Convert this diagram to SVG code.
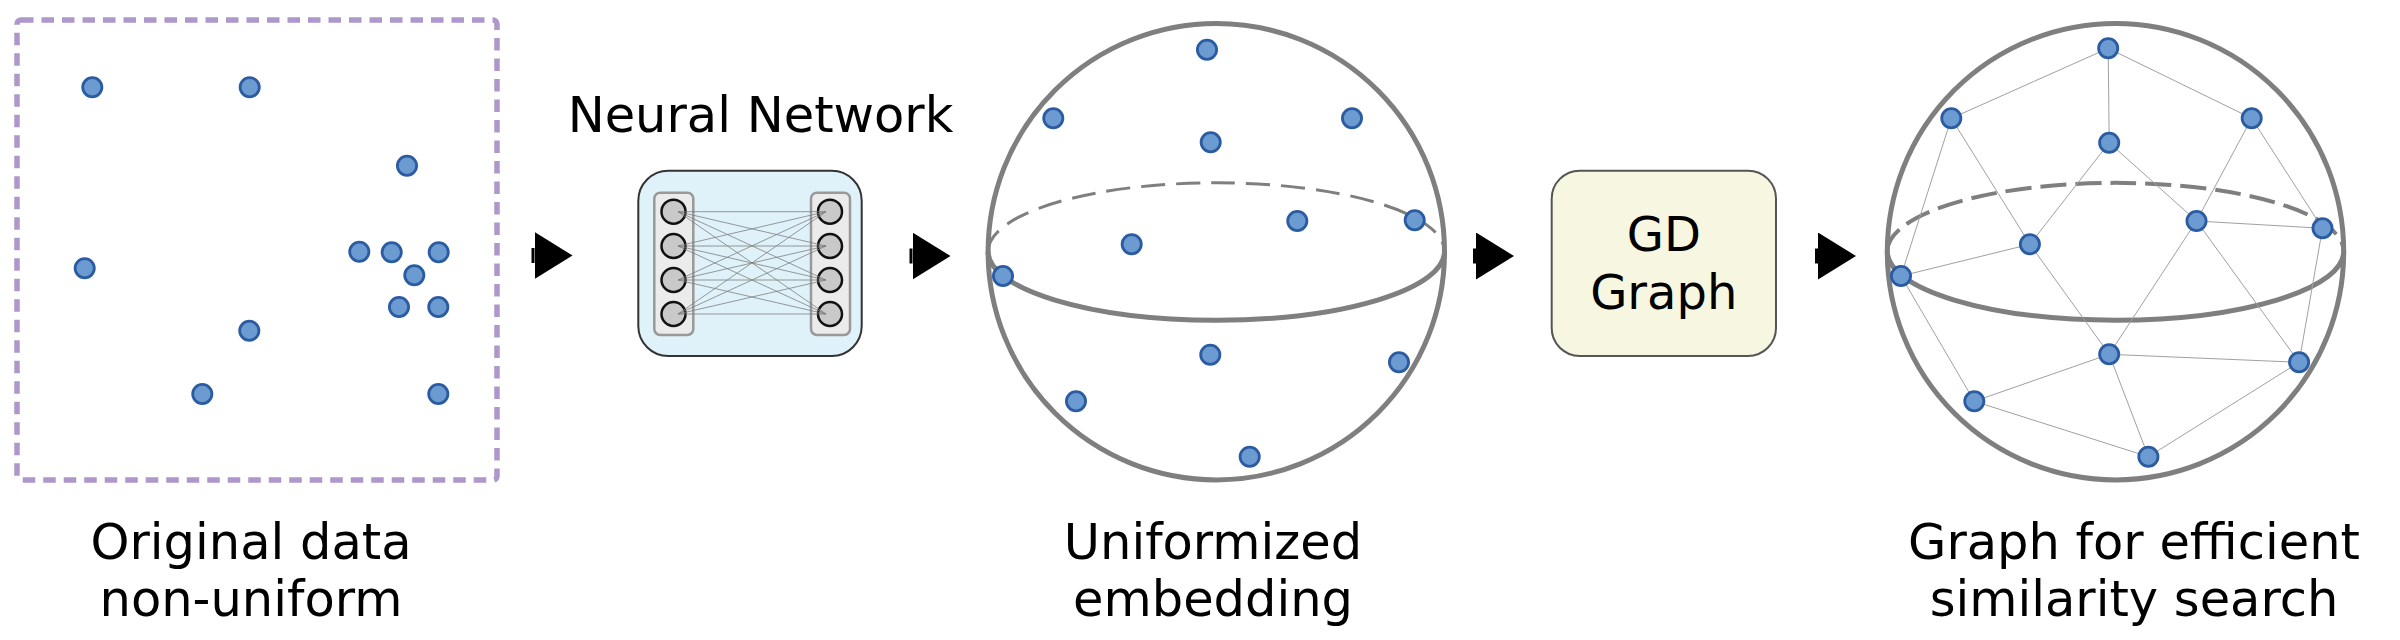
<svg xmlns="http://www.w3.org/2000/svg" width="2400" height="640" viewBox="0 0 2400 640">
<style>
text{font-family:"DejaVu Sans","Liberation Sans",sans-serif;fill:#000}
.lbl{font-size:49.5px;text-anchor:middle}
.dot{fill:#6b9bd1;stroke:#2b5ba1;stroke-width:2.8}
.sph{fill:none;stroke:#7f7f7f;stroke-width:5}
.dash1{fill:none;stroke:#7f7f7f;stroke-width:3;stroke-dasharray:24 11}
.dash2{fill:none;stroke:#7f7f7f;stroke-width:4;stroke-dasharray:26 9}
.edge{stroke:#a0a0a0;stroke-width:1;fill:none}
.syn{stroke:#7a7a7a;stroke-width:1;stroke-opacity:0.75}
.neu{fill:#c9c9c9;stroke:#111;stroke-width:2.5}
.col{fill:#ebebeb;stroke:#999;stroke-width:2.5}
.arr{stroke:#000;stroke-width:15;fill:none;marker-end:url(#tri)}
</style>
<defs>
<marker id="tri" viewBox="0 0 38 47" markerWidth="38" markerHeight="47" markerUnits="userSpaceOnUse" refX="0" refY="23.5" orient="auto">
<path d="M0,0 L38,23.5 L0,47 Z" fill="#000"/>
</marker>
</defs>
<rect width="2400" height="640" fill="#fff"/>

<g id="original-data">
<rect x="17" y="20" width="480" height="460" rx="4" fill="none" stroke="#ae97ca" stroke-width="5.5" stroke-dasharray="12.5 8"/>
<circle class="dot" cx="92.3" cy="87.3" r="9.6"/>
<circle class="dot" cx="249.7" cy="87.3" r="9.6"/>
<circle class="dot" cx="407" cy="165.7" r="9.6"/>
<circle class="dot" cx="84.7" cy="268.3" r="9.6"/>
<circle class="dot" cx="359.3" cy="251.7" r="9.6"/>
<circle class="dot" cx="391.7" cy="252.3" r="9.6"/>
<circle class="dot" cx="438.7" cy="252.3" r="9.6"/>
<circle class="dot" cx="414.3" cy="275.3" r="9.6"/>
<circle class="dot" cx="399" cy="307" r="9.6"/>
<circle class="dot" cx="438.3" cy="307" r="9.6"/>
<circle class="dot" cx="249.3" cy="330.7" r="9.6"/>
<circle class="dot" cx="202.3" cy="394" r="9.6"/>
<circle class="dot" cx="438.3" cy="394" r="9.6"/>
<text class="lbl" x="251" y="558.5">Original data</text>
<text class="lbl" x="251" y="615.5">non-uniform</text>
</g>

<g id="neural-network">
<text class="lbl" x="760.5" y="131.7">Neural Network</text>
<rect x="638.3" y="170.7" width="223.4" height="185.3" rx="30" fill="#dff1f9" stroke="#333" stroke-width="2"/>
<rect class="col" x="654.3" y="192.7" width="39" height="142.3" rx="6"/>
<rect class="col" x="811" y="192.7" width="39" height="142.3" rx="6"/>
<circle class="neu" cx="673.5" cy="211.7" r="12"/>
<circle class="neu" cx="673.5" cy="246" r="12"/>
<circle class="neu" cx="673.5" cy="280" r="12"/>
<circle class="neu" cx="673.5" cy="314" r="12"/>
<circle class="neu" cx="830" cy="211.7" r="12"/>
<circle class="neu" cx="830" cy="246" r="12"/>
<circle class="neu" cx="830" cy="280" r="12"/>
<circle class="neu" cx="830" cy="314" r="12"/>
<g class="syn">
<line x1="678" y1="211.7" x2="826" y2="211.7"/><line x1="678" y1="211.7" x2="826" y2="246"/><line x1="678" y1="211.7" x2="826" y2="280"/><line x1="678" y1="211.7" x2="826" y2="314"/>
<line x1="678" y1="246" x2="826" y2="211.7"/><line x1="678" y1="246" x2="826" y2="246"/><line x1="678" y1="246" x2="826" y2="280"/><line x1="678" y1="246" x2="826" y2="314"/>
<line x1="678" y1="280" x2="826" y2="211.7"/><line x1="678" y1="280" x2="826" y2="246"/><line x1="678" y1="280" x2="826" y2="280"/><line x1="678" y1="280" x2="826" y2="314"/>
<line x1="678" y1="314" x2="826" y2="211.7"/><line x1="678" y1="314" x2="826" y2="246"/><line x1="678" y1="314" x2="826" y2="280"/><line x1="678" y1="314" x2="826" y2="314"/>
</g>
</g>

<g id="uniform-sphere">
<circle class="sph" cx="1216.3" cy="251.7" r="228.2"/>
<path class="dash1" d="M988.1,251.5 A228.2,68.7 0 0 1 1444.5,251.5"/>
<path class="sph" d="M988.1,251.5 A228.2,68.7 0 0 0 1444.5,251.5"/>
<circle class="dot" cx="1207" cy="49.7" r="9.6"/>
<circle class="dot" cx="1053.3" cy="118.3" r="9.6"/>
<circle class="dot" cx="1352" cy="118.3" r="9.6"/>
<circle class="dot" cx="1210.7" cy="142.3" r="9.6"/>
<circle class="dot" cx="1297.3" cy="221" r="9.6"/>
<circle class="dot" cx="1414.7" cy="220.3" r="9.6"/>
<circle class="dot" cx="1131.7" cy="244.3" r="9.6"/>
<circle class="dot" cx="1003" cy="276" r="9.6"/>
<circle class="dot" cx="1210.3" cy="354.7" r="9.6"/>
<circle class="dot" cx="1399" cy="362.3" r="9.6"/>
<circle class="dot" cx="1076" cy="401.3" r="9.6"/>
<circle class="dot" cx="1249.7" cy="456.7" r="9.6"/>
<text class="lbl" x="1213" y="558.5">Uniformized</text>
<text class="lbl" x="1213" y="615.5">embedding</text>
</g>

<g id="gd-graph">
<rect x="1551.7" y="170.7" width="224.3" height="185.3" rx="28" fill="#f7f7e1" stroke="#555" stroke-width="2"/>
<text x="1663.8" y="251" font-size="48" text-anchor="middle">GD</text>
<text x="1663.8" y="309.3" font-size="48" text-anchor="middle">Graph</text>
</g>

<g id="graph-sphere">
<circle class="sph" cx="2115.5" cy="251.7" r="228.2"/>
<path class="dash2" d="M1887.3,251.5 A228.2,68.7 0 0 1 2343.7,251.5"/>
<path class="sph" d="M1887.3,251.5 A228.2,68.7 0 0 0 2343.7,251.5" stroke-width="5.5"/>
<g class="edge">
<line x1="2108.2" y1="48.3" x2="1951.3" y2="118.3"/>
<line x1="2108.2" y1="48.3" x2="2251.7" y2="118.3"/>
<line x1="2108.2" y1="48.3" x2="2109.2" y2="142.7"/>
<line x1="1951.3" y1="118.3" x2="1901" y2="276"/>
<line x1="1951.3" y1="118.3" x2="2029.9" y2="244.3"/>
<line x1="2109.2" y1="142.7" x2="2029.9" y2="244.3"/>
<line x1="2109.2" y1="142.7" x2="2196.5" y2="221"/>
<line x1="2251.7" y1="118.3" x2="2196.5" y2="221"/>
<line x1="2251.7" y1="118.3" x2="2322.5" y2="228.3"/>
<line x1="2196.5" y1="221" x2="2322.5" y2="228.3"/>
<line x1="2029.9" y1="244.3" x2="1901" y2="276"/>
<line x1="2029.9" y1="244.3" x2="2109.2" y2="354.3"/>
<line x1="2196.5" y1="221" x2="2109.2" y2="354.3"/>
<line x1="2196.5" y1="221" x2="2299.1" y2="362.3"/>
<line x1="2322.5" y1="228.3" x2="2299.1" y2="362.3"/>
<line x1="2109.2" y1="354.3" x2="2299.1" y2="362.3"/>
<line x1="1901" y1="276" x2="1974.3" y2="401.3"/>
<line x1="1974.3" y1="401.3" x2="2109.2" y2="354.3"/>
<line x1="1974.3" y1="401.3" x2="2148.4" y2="456.7"/>
<line x1="2109.2" y1="354.3" x2="2148.4" y2="456.7"/>
<line x1="2148.4" y1="456.7" x2="2299.1" y2="362.3"/>
</g>
<circle class="dot" cx="2108.2" cy="48.3" r="9.6"/>
<circle class="dot" cx="1951.3" cy="118.3" r="9.6"/>
<circle class="dot" cx="2251.7" cy="118.3" r="9.6"/>
<circle class="dot" cx="2109.2" cy="142.7" r="9.6"/>
<circle class="dot" cx="2196.5" cy="221" r="9.6"/>
<circle class="dot" cx="2322.5" cy="228.3" r="9.6"/>
<circle class="dot" cx="2029.9" cy="244.3" r="9.6"/>
<circle class="dot" cx="1901" cy="276" r="9.6"/>
<circle class="dot" cx="2109.2" cy="354.3" r="9.6"/>
<circle class="dot" cx="2299.1" cy="362.3" r="9.6"/>
<circle class="dot" cx="1974.3" cy="401.3" r="9.6"/>
<circle class="dot" cx="2148.4" cy="456.7" r="9.6"/>
<text class="lbl" x="2134" y="558.5">Graph for efficient</text>
<text class="lbl" x="2134" y="615.5">similarity search</text>
</g>

<g id="connectors">
<line class="arr" x1="531.5" y1="255.5" x2="534.5" y2="255.5"/>
<line class="arr" x1="909.5" y1="256" x2="912.5" y2="256"/>
<line class="arr" x1="1473" y1="256" x2="1476" y2="256"/>
<line class="arr" x1="1815" y1="256" x2="1818" y2="256"/>
</g>
</svg>
